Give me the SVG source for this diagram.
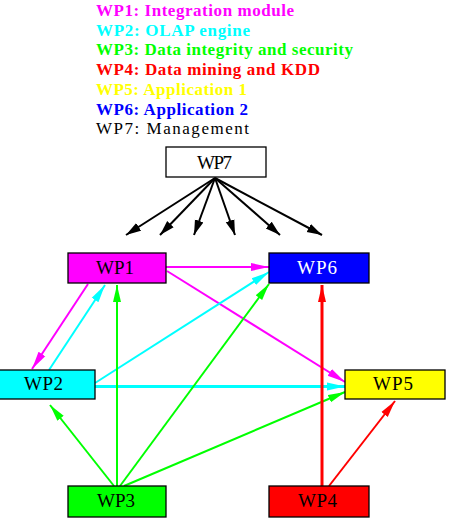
<svg xmlns="http://www.w3.org/2000/svg" width="450" height="527" viewBox="0 0 450 527">
<style>
.leg{font-family:"Liberation Serif","Times New Roman",serif;font-size:17px;font-weight:bold}
.lbl{font-family:"Liberation Serif","Times New Roman",serif;font-size:19px}
.box{stroke:#000;stroke-width:1.3}
.e{fill:none;stroke-width:2}
</style>
<defs>
<marker id="ak" markerUnits="userSpaceOnUse" markerWidth="18" markerHeight="12" refX="15" refY="5" orient="auto"><path d="M0,0.5 L15,5 L0,9.5 z" fill="#000"/></marker>
<marker id="am" markerUnits="userSpaceOnUse" markerWidth="20" markerHeight="12" refX="18" refY="5" orient="auto"><path d="M0,1 L18,5 L0,9 z" fill="#f0f"/></marker>
<marker id="ac" markerUnits="userSpaceOnUse" markerWidth="20" markerHeight="12" refX="18" refY="5" orient="auto"><path d="M0,1 L18,5 L0,9 z" fill="#0ff"/></marker>
<marker id="ag" markerUnits="userSpaceOnUse" markerWidth="20" markerHeight="12" refX="17" refY="5" orient="auto"><path d="M0,1 L17,5 L0,9 z" fill="#0f0"/></marker>
<marker id="ar" markerUnits="userSpaceOnUse" markerWidth="20" markerHeight="12" refX="17" refY="5" orient="auto"><path d="M0,1 L17,5 L0,9 z" fill="#f00"/></marker>
</defs>
<g id="legend">
<text class="leg" x="96" y="16" fill="#f0f" textLength="198" lengthAdjust="spacing">WP1: Integration module</text>
<text class="leg" x="96" y="35.5" fill="#0ff" textLength="154" lengthAdjust="spacing">WP2: OLAP engine</text>
<text class="leg" x="96" y="55" fill="#0f0" textLength="257" lengthAdjust="spacing">WP3: Data integrity and security</text>
<text class="leg" x="96" y="75" fill="#f00" textLength="224" lengthAdjust="spacing">WP4: Data mining and KDD</text>
<text class="leg" x="96" y="95" fill="#ff0" textLength="151" lengthAdjust="spacing">WP5: Application 1</text>
<text class="leg" x="96" y="115" fill="#00f" textLength="152" lengthAdjust="spacing">WP6: Application 2</text>
<text class="leg" x="96" y="134" fill="#000" style="font-weight:normal" textLength="153" lengthAdjust="spacing">WP7: Management</text>
</g>
<g id="edges">
<g stroke="#000" class="e" marker-end="url(#ak)">
<line x1="215" y1="178" x2="126" y2="235"/>
<line x1="215" y1="178" x2="160" y2="235"/>
<line x1="215" y1="178" x2="194" y2="235"/>
<line x1="215" y1="178" x2="235" y2="235"/>
<line x1="215" y1="178" x2="280" y2="235"/>
<line x1="215" y1="178" x2="322" y2="235"/>
</g>
<g stroke="#f0f" class="e" marker-end="url(#am)">
<line x1="166" y1="267" x2="269" y2="267"/>
<line x1="167" y1="271" x2="345" y2="382"/>
<line x1="88" y1="284" x2="32" y2="369"/>
</g>
<g stroke="#0ff" class="e" marker-end="url(#ac)">
<line x1="49" y1="370" x2="105" y2="285"/>
<line x1="95" y1="383" x2="269" y2="272"/>
<line x1="95" y1="386.5" x2="345" y2="386.5" stroke-width="3"/>
</g>
<g stroke="#0f0" class="e" marker-end="url(#ag)">
<line x1="114" y1="486" x2="50" y2="405"/>
<line x1="117" y1="486" x2="117" y2="285"/>
<line x1="120" y1="486" x2="269" y2="284"/>
<line x1="124" y1="486" x2="345" y2="392"/>
</g>
<g stroke="#f00" class="e" marker-end="url(#ar)">
<line x1="322" y1="486" x2="322" y2="285" stroke-width="3"/>
<line x1="329" y1="486" x2="395" y2="401"/>
</g>
</g>
<g id="WP7"><rect class="box" x="166" y="147" width="100" height="30" fill="#fff"/><text class="lbl" x="197" y="169" textLength="35" lengthAdjust="spacing">WP7</text></g>
<g id="WP1"><rect class="box" x="68" y="253" width="98" height="30" fill="#f0f"/><text class="lbl" x="96" y="274" textLength="38" lengthAdjust="spacing">WP1</text></g>
<g id="WP6"><rect class="box" x="269" y="253" width="100" height="30" fill="#00f"/><text class="lbl" x="297" y="274" fill="#fff" textLength="40" lengthAdjust="spacing">WP6</text></g>
<g id="WP2"><rect class="box" x="-5" y="370" width="100" height="29" fill="#0ff"/><text class="lbl" x="24" y="390" textLength="39" lengthAdjust="spacing">WP2</text></g>
<g id="WP5"><rect class="box" x="345" y="370" width="100" height="29" fill="#ff0"/><text class="lbl" x="373" y="390" textLength="40" lengthAdjust="spacing">WP5</text></g>
<g id="WP3"><rect class="box" x="68" y="486" width="98" height="31" fill="#0f0"/><text class="lbl" x="97" y="507" textLength="38" lengthAdjust="spacing">WP3</text></g>
<g id="WP4"><rect class="box" x="269" y="486" width="100" height="31" fill="#f00"/><text class="lbl" x="298" y="507" textLength="39" lengthAdjust="spacing">WP4</text></g>
</svg>
